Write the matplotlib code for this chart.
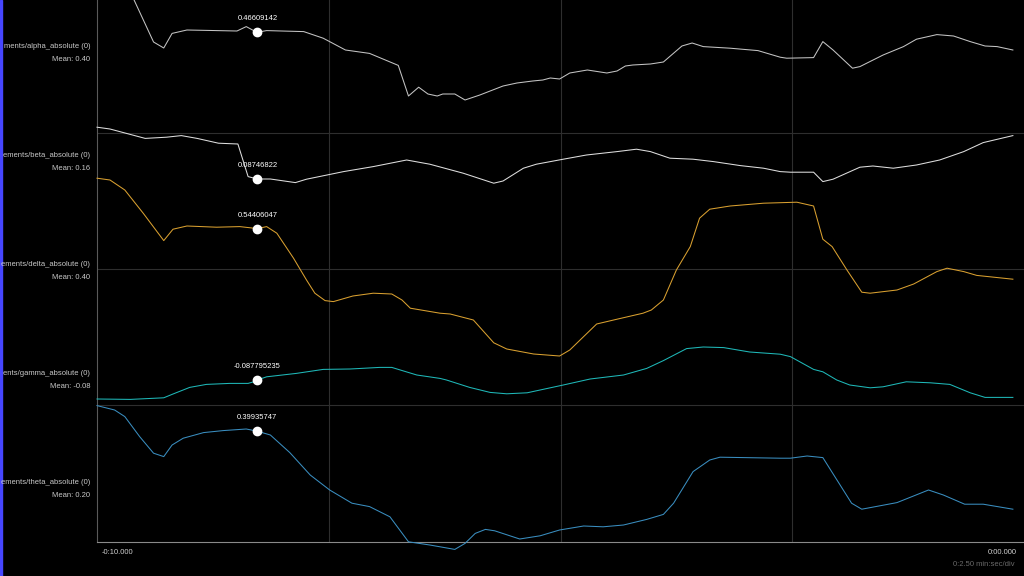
import matplotlib
matplotlib.use("Agg")
import matplotlib.pyplot as plt
import numpy as np
from matplotlib.patches import Rectangle

# band power streams, time in minutes relative to now
channels = ["alpha", "beta", "delta", "gamma", "theta"]
# the left panel crops the stream names, only these parts are visible
stream_labels = ["ments/alpha_absolute (0)", "ements/beta_absolute (0)", "ements/delta_absolute (0)",
                 "ents/gamma_absolute (0)", "ements/theta_absolute (0)"]
means = [0.40, 0.16, 0.40, -0.08, 0.20]
cursor_t = -8.27
cursor_labels = ["0.46609142", "0.08746822", "0.54406047", "-0.087795235", "0.39935747"]

alpha_t = [-9.70, -9.39, -9.28, -9.19, -9.03, -8.49, -8.39, -8.31, -8.27, -8.17, -7.77, -7.56,
           -7.32, -7.06, -6.75, -6.64, -6.53, -6.43, -6.33, -6.27, -6.14, -6.03, -5.87, -5.62,
           -5.47, -5.30, -5.19, -5.11, -5.01, -4.90, -4.71, -4.50, -4.39, -4.30, -4.22, -4.03,
           -3.89, -3.69, -3.58, -3.46, -3.17, -2.87, -2.63, -2.56, -2.27, -2.17, -2.06, -1.85,
           -1.77, -1.52, -1.30, -1.16, -0.94, -0.76, -0.58, -0.42, -0.29, -0.12]
alpha_v = [0.73, 0.42, 0.39, 0.463, 0.48, 0.475, 0.497, 0.477, 0.469, 0.477, 0.472, 0.439,
           0.38, 0.363, 0.303, 0.15, 0.194, 0.16, 0.15, 0.16, 0.16, 0.13, 0.155, 0.20,
           0.215, 0.225, 0.23, 0.24, 0.235, 0.265, 0.28, 0.265, 0.275, 0.30, 0.305, 0.31,
           0.32, 0.40, 0.415, 0.397, 0.389, 0.377, 0.344, 0.339, 0.342, 0.422, 0.38, 0.289,
           0.297, 0.355, 0.397, 0.434, 0.457, 0.45, 0.422, 0.40, 0.397, 0.38]

beta_t = [-10.00, -9.86, -9.48, -9.25, -9.09, -8.92, -8.69, -8.48, -8.37, -8.27, -8.13, -7.86,
          -7.74, -7.34, -7.02, -6.66, -6.41, -6.05, -5.72, -5.62, -5.40, -5.26, -4.97, -4.72,
          -4.39, -4.18, -4.03, -3.82, -3.57, -3.35, -3.06, -2.81, -2.63, -2.52, -2.27, -2.17,
          -2.06, -1.77, -1.63, -1.41, -1.16, -0.91, -0.65, -0.44, -0.12]
beta_v = [0.344, 0.335, 0.288, 0.294, 0.302, 0.288, 0.264, 0.26, 0.097, 0.085, 0.085, 0.067,
          0.084, 0.122, 0.147, 0.18, 0.159, 0.114, 0.064, 0.075, 0.139, 0.159, 0.184, 0.205,
          0.222, 0.234, 0.222, 0.189, 0.184, 0.172, 0.152, 0.139, 0.122, 0.119, 0.119, 0.072,
          0.084, 0.144, 0.15, 0.139, 0.155, 0.18, 0.222, 0.267, 0.302]

delta_t = [-10.00, -9.86, -9.70, -9.50, -9.28, -9.18, -9.03, -8.71, -8.46, -8.27, -8.17, -8.06,
           -7.88, -7.74, -7.65, -7.54, -7.45, -7.24, -7.02, -6.82, -6.71, -6.62, -6.30, -6.19,
           -5.94, -5.72, -5.58, -5.29, -5.01, -4.90, -4.61, -4.39, -4.11, -4.02, -3.89, -3.75,
           -3.60, -3.50, -3.39, -3.17, -2.81, -2.45, -2.27, -2.17, -2.07, -1.91, -1.75, -1.66,
           -1.37, -1.19, -0.94, -0.83, -0.65, -0.51, -0.12]
delta_v = [0.799, 0.79, 0.74, 0.623, 0.487, 0.544, 0.56, 0.554, 0.557, 0.547, 0.557, 0.524,
           0.399, 0.29, 0.224, 0.187, 0.182, 0.21, 0.224, 0.22, 0.19, 0.149, 0.124, 0.12,
           0.09, -0.024, -0.055, -0.08, -0.09, -0.06, 0.07, 0.094, 0.124, 0.14, 0.19, 0.34,
           0.457, 0.599, 0.644, 0.66, 0.674, 0.679, 0.66, 0.494, 0.457, 0.34, 0.229, 0.224,
           0.24, 0.27, 0.332, 0.349, 0.332, 0.313, 0.294]

gamma_t = [-10.00, -9.64, -9.28, -9.18, -9.00, -8.82, -8.57, -8.37, -8.31, -8.27, -8.17, -7.85,
           -7.56, -7.27, -6.95, -6.82, -6.70, -6.55, -6.30, -6.23, -5.98, -5.76, -5.58, -5.36,
           -5.19, -4.97, -4.68, -4.32, -4.07, -3.89, -3.64, -3.46, -3.24, -2.96, -2.63, -2.52,
           -2.27, -2.17, -2.02, -1.88, -1.66, -1.52, -1.27, -1.01, -0.80, -0.58, -0.42, -0.12]
gamma_v = [-0.185, -0.187, -0.179, -0.16, -0.127, -0.112, -0.107, -0.107, -0.099, -0.09, -0.074, -0.057,
           -0.037, -0.035, -0.027, -0.027, -0.044, -0.065, -0.082, -0.09, -0.127, -0.152, -0.159, -0.154,
           -0.137, -0.115, -0.085, -0.065, -0.032, 0.007, 0.067, 0.075, 0.072, 0.05, 0.039, 0.027,
           -0.037, -0.049, -0.09, -0.115, -0.129, -0.124, -0.099, -0.104, -0.112, -0.154, -0.177, -0.177]

theta_t = [-10.00, -9.81, -9.70, -9.54, -9.39, -9.28, -9.19, -9.07, -8.85, -8.64, -8.39, -8.27,
           -8.13, -7.92, -7.70, -7.49, -7.25, -7.06, -6.84, -6.64, -6.41, -6.14, -6.03, -5.92,
           -5.81, -5.71, -5.44, -5.22, -5.01, -4.75, -4.54, -4.32, -4.07, -3.89, -3.78, -3.57,
           -3.39, -3.28, -2.63, -2.52, -2.34, -2.17, -1.86, -1.75, -1.37, -1.03, -0.87, -0.64,
           -0.44, -0.12]
theta_v = [0.532, 0.51, 0.477, 0.377, 0.294, 0.277, 0.335, 0.369, 0.397, 0.407, 0.415, 0.404,
           0.385, 0.297, 0.185, 0.11, 0.044, 0.027, -0.024, -0.149, -0.165, -0.187, -0.157, -0.107,
           -0.087, -0.094, -0.135, -0.119, -0.09, -0.07, -0.074, -0.065, -0.037, -0.012, 0.044, 0.202,
           0.26, 0.274, 0.269, 0.269, 0.28, 0.272, 0.044, 0.014, 0.047, 0.11, 0.085, 0.039,
           0.039, 0.014]

series = {
    "alpha": (alpha_t, alpha_v),
    "beta": (beta_t, beta_v),
    "delta": (delta_t, delta_v),
    "gamma": (gamma_t, gamma_v),
    "theta": (theta_t, theta_v),
}

# display settings per trace (top of view, same vertical gain for all)
view_top = [0.63, 0.98, 1.69, 1.81, 2.56]
view_span = 2.71
colors = ["#c4c4c4", "#dedede", "#d9a030", "#1fb8b8", "#3a8ec0"]

plt.rcParams["font.family"] = ["Liberation Sans", "DejaVu Sans"]

fig = plt.figure(figsize=(10.24, 5.76), dpi=100, facecolor="black")
ax = fig.add_axes([97 / 1024, 34 / 576, 1 - 97 / 1024, 542 / 576])
ax.set_facecolor("black")
ax.set_xlim(-10, 0)
ax.set_ylim(542, 0)
ax.set_xticks([-7.5, -5, -2.5])
ax.set_yticks([133, 269, 405])
ax.grid(True, color="#2e2e2e", linewidth=0.8)
ax.tick_params(length=0, labelbottom=False, labelleft=False)
for side in ["top", "right"]:
    ax.spines[side].set_visible(False)
ax.spines["left"].set_color("#5a5a5a")
ax.spines["bottom"].set_color("#8a8a8a")
ax.spines["left"].set_linewidth(0.8)
ax.spines["bottom"].set_linewidth(0.8)

for i, name in enumerate(channels):
    t, v = series[name]
    a = ax.twinx()
    a.set_ylim(view_top[i] - view_span, view_top[i])
    a.set_xlim(-10, 0)
    a.axis("off")
    a.plot(t, v, color=colors[i], linewidth=0.75, clip_on=False)
    cv = np.interp(cursor_t, t, v)
    a.plot([cursor_t], [cv], "o", color="white", markersize=6, clip_on=False, zorder=5)
    a.annotate(cursor_labels[i], (cursor_t, cv), xytext=(0, 7), textcoords="offset points",
               ha="center", va="bottom", color="white", fontsize=5.5)

    # channel label, right aligned in the left panel
    ly = 46.7 + i * 108.9
    fig.text(90 / 1024, 1 - ly / 576, stream_labels[i],
             ha="right", va="center", color="#c8c8c8", fontsize=5.5)
    fig.text(90 / 1024, 1 - (ly + 13) / 576, "Mean: %.2f" % means[i],
             ha="right", va="center", color="#c8c8c8", fontsize=5.5)

fig.text(102 / 1024, 1 - 552 / 576, "-0:10.000", ha="left", va="center", color="#d0d0d0", fontsize=5.5)
fig.text(1017 / 1024, 1 - 552 / 576, "0:00.000", ha="right", va="center", color="#d0d0d0", fontsize=5.5)
fig.text(1015 / 1024, 1 - 564 / 576, "0:2.50 min:sec/div", ha="right", va="center", color="#6a6a6a",
         fontsize=5.5)

fig.add_artist(Rectangle((0, 0), 1.5 / 1024, 1, transform=fig.transFigure, color="#4646ff"))

fig.savefig("out.png", dpi=100, facecolor="black")
